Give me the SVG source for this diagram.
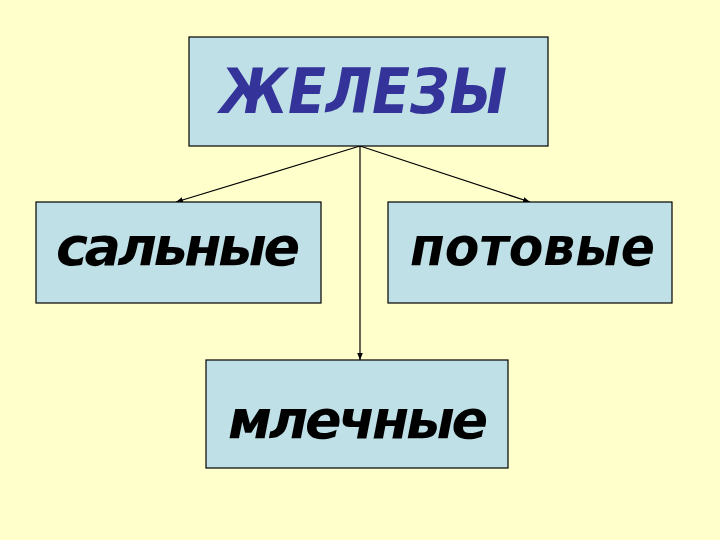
<svg xmlns="http://www.w3.org/2000/svg" width="720" height="540" viewBox="0 0 720 540">
<style>
.box{fill:#BFE0E6;stroke:#000;stroke-width:1.2}
.lbl{font-family:"DejaVu Sans","Liberation Sans",sans-serif;font-style:oblique;font-weight:bold;fill:#000}
.ttl{font-family:"DejaVu Sans","Liberation Sans",sans-serif;font-style:oblique;font-weight:bold;fill:#333399}
.con{stroke:#000;stroke-width:1.2;fill:none;marker-end:url(#ah)}
</style>
<defs>
<marker id="ah" viewBox="0 0 10 10" refX="10" refY="5" markerWidth="7" markerHeight="7" orient="auto" markerUnits="userSpaceOnUse">
<path d="M0,1 L10,5 L0,9 z" fill="#000"/>
</marker>
</defs>
<rect x="0" y="0" width="720" height="540" fill="#FFFFCC"/>
<g id="connectors">
<line class="con" x1="360" y1="146" x2="176" y2="202"/>
<line class="con" x1="360" y1="146" x2="530" y2="202"/>
<line class="con" x1="360" y1="146" x2="360" y2="360"/>
</g>
<g id="node-zhelezy">
<rect class="box" x="189" y="37" width="359" height="109"/>
<text class="ttl" x="220" y="113" font-size="62" textLength="287" lengthAdjust="spacingAndGlyphs">ЖЕЛЕЗЫ</text>
</g>
<g id="node-salnye">
<rect class="box" x="36" y="202" width="285" height="101"/>
<text class="lbl" x="56" y="265" font-size="54" textLength="244" lengthAdjust="spacing">сальные</text>
</g>
<g id="node-potovye">
<rect class="box" x="388" y="202" width="284" height="101"/>
<text class="lbl" x="410" y="265" font-size="54" textLength="245" lengthAdjust="spacingAndGlyphs">потовые</text>
</g>
<g id="node-mlechnye">
<rect class="box" x="206" y="360" width="302" height="108"/>
<text class="lbl" x="228" y="438" font-size="54" textLength="260" lengthAdjust="spacing">млечные</text>
</g>
</svg>
